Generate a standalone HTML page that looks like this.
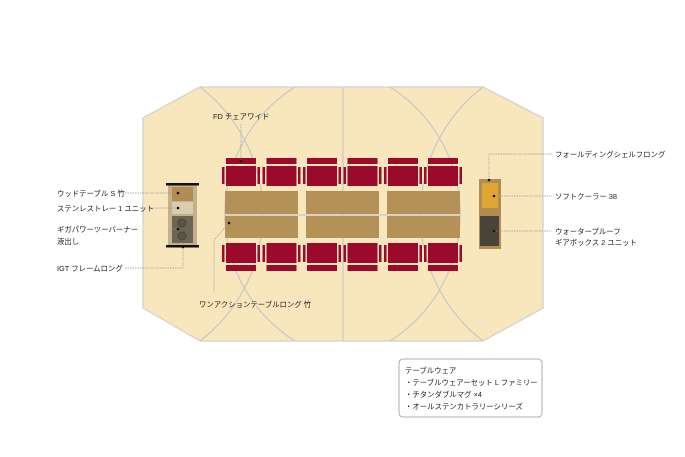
<!DOCTYPE html>
<html><head><meta charset="utf-8"><style>
html,body{margin:0;padding:0;background:#fff;width:685px;height:457px;overflow:hidden}
svg text{font-family:"Liberation Sans","Noto Sans CJK JP",sans-serif;font-size:7.4px;fill:#222}
</style></head><body>
<svg width="685" height="457" viewBox="0 0 685 457" xmlns="http://www.w3.org/2000/svg">
<polygon points="200,87 483,87 543,118 543,308 483,341 200,341 143,308 143,118" fill="#f8e6bd" stroke="#d9d5cc" stroke-width="1.5"/>
<g fill="none" stroke="#c8c8c8" stroke-width="1.2">
<line x1="343" y1="87" x2="343" y2="341"/>
<path d="M200,87 A160,160 0 0 1 200,341"/>
<path d="M295,87 A150,150 0 0 0 295,341"/>
<path d="M483,87 A160,160 0 0 0 483,341"/>
<path d="M390,87 A150,150 0 0 1 390,341"/>
</g>
<g fill="#b39157">
<rect x="225" y="191" width="73" height="23"/><rect x="225" y="216" width="73" height="22"/>
<rect x="306" y="191" width="73" height="23"/><rect x="306" y="216" width="73" height="22"/>
<rect x="387" y="191" width="73" height="23"/><rect x="387" y="216" width="73" height="22"/>
</g>
<line x1="225" y1="215" x2="460" y2="215" stroke="#c8c8c8" stroke-width="1.2"/>
<g fill="#9b0a2b" id="chairs">
<g id="c"><rect x="226" y="158" width="30" height="6"/><rect x="226" y="166" width="30" height="20"/><rect x="222" y="167" width="2.5" height="17"/><rect x="257.5" y="167" width="2.5" height="17"/>
<rect x="226" y="243" width="30" height="20"/><rect x="226" y="265" width="30" height="6"/><rect x="222" y="245" width="2.5" height="17"/><rect x="257.5" y="245" width="2.5" height="17"/></g>
<use href="#c" x="40.5"/><use href="#c" x="81"/><use href="#c" x="121.5"/><use href="#c" x="162"/><use href="#c" x="202"/>
</g>
<rect x="168" y="185" width="29" height="62" fill="#c4b089"/>
<rect x="166" y="183" width="33" height="2.5" fill="#111"/>
<rect x="166" y="245" width="33" height="2.5" fill="#111"/>
<rect x="172" y="187" width="21" height="14" fill="#b38c52"/>
<rect x="172" y="202" width="21" height="12" fill="#d9ccb0"/>
<rect x="172" y="216" width="21" height="27" fill="#6b6554"/>
<circle cx="182" cy="223" r="4" fill="#5a5447" stroke="#4a453a"/>
<circle cx="182" cy="236" r="4" fill="#5a5447" stroke="#4a453a"/>
<rect x="479" y="179" width="22" height="70" fill="#b38c52"/>
<rect x="482" y="183" width="16" height="25" fill="#e0a632"/>
<rect x="480" y="216" width="19" height="30" fill="#4a4438"/>
<g fill="none" stroke="#999" stroke-width="0.7" stroke-dasharray="1.5,1">
<line x1="125" y1="193" x2="178" y2="193"/>
<line x1="150" y1="208" x2="178" y2="208"/>
<line x1="170" y1="229" x2="178" y2="229"/>
<polyline points="125,268 183,268 183,247"/>
<line x1="241" y1="124" x2="241" y2="161"/>
<polyline points="229,223 214,240 214,293"/>
<polyline points="552,154 489,154 489,180"/>
<line x1="494" y1="196" x2="552" y2="196"/>
<line x1="494" y1="231" x2="552" y2="231"/>
</g>
<g fill="#111">
<circle cx="178" cy="193" r="1.3"/><circle cx="178" cy="208" r="1.3"/><circle cx="178" cy="229" r="1.3"/><circle cx="183" cy="247" r="1.3"/>
<circle cx="241" cy="161" r="1.3"/><circle cx="229" cy="223" r="1.3"/>
<circle cx="489" cy="180" r="1.3"/><circle cx="494" cy="196" r="1.3"/><circle cx="494" cy="231" r="1.3"/>
</g>
<text x="57" y="196">ウッドテーブル S 竹</text>
<text x="57" y="211">ステンレストレー 1 ユニット</text>
<text x="57" y="232">ギガパワーツーバーナー</text>
<text x="57" y="244">液出し</text>
<text x="57" y="271">IGT フレームロング</text>
<text x="213" y="119">FD チェアワイド</text>
<text x="199" y="307">ワンアクションテーブルロング 竹</text>
<text x="555" y="157">フォールディングシェルフロング</text>
<text x="555" y="199">ソフトクーラー 38</text>
<text x="555" y="234">ウォータープルーフ</text>
<text x="555" y="245">ギアボックス 2 ユニット</text>
<rect x="399" y="359" width="143" height="58" rx="4" fill="#fff" stroke="#999" stroke-width="0.8"/>
<text x="405" y="373">テーブルウェア</text>
<text x="405" y="385">・テーブルウェアーセット L ファミリー</text>
<text x="405" y="397">・チタンダブルマグ ×4</text>
<text x="405" y="409">・オールステンカトラリーシリーズ</text>
</svg>
</body></html>
